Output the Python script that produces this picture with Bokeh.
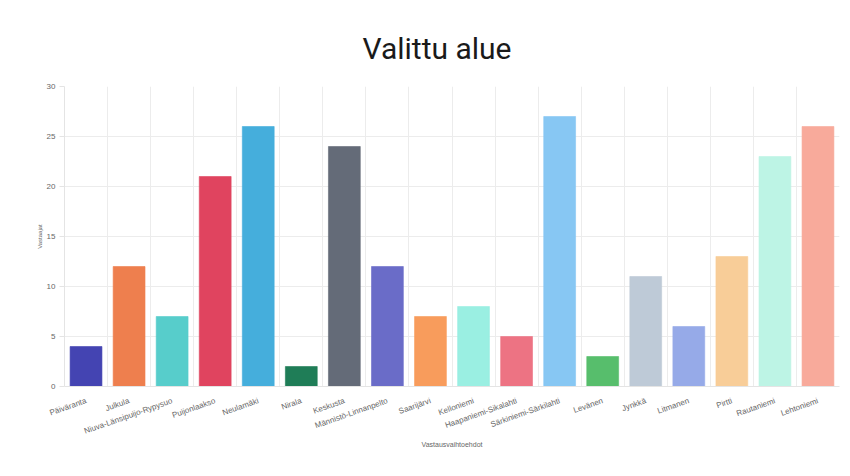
from bokeh.plotting import figure
from bokeh.models import ColumnDataSource, FixedTicker, Range1d
from bokeh.embed import file_html
from bokeh.resources import INLINE

categories = ["Päiväranta", "Julkula", "Niuva-Länsipuijo-Rypysuo", "Puijonlaakso",
              "Neulamäki", "Nirala", "Keskusta", "Männistö-Linnanpelto", "Saarijärvi",
              "Kelloniemi", "Haapaniemi-Sikalahti", "Särkiniemi-Särkilahti", "Levänen",
              "Jynkkä", "Litmanen", "Pirtti", "Rautaniemi", "Lehtoniemi"]
values = [4, 12, 7, 21, 26, 2, 24, 12, 7, 8, 5, 27, 3, 11, 6, 13, 23, 26]
colors = ["#4444B2", "#EE7F4E", "#57CDCB", "#E0445F", "#45AEDC", "#1F7D57",
          "#646B78", "#6A6CC8", "#F89C5C", "#9AEFE2", "#ED7383", "#87C7F3",
          "#57BE6C", "#BECAD7", "#96AAE8", "#F8CD98", "#BDF4E5", "#F8AA9B"]
y_ticks = [0, 5, 10, 15, 20, 25, 30]

n = len(categories)
centers = [i + 0.5 for i in range(n)]
src = ColumnDataSource(dict(x=centers, top=values, color=colors, name=categories))

p = figure(width=850, height=476, output_backend="svg", toolbar_location=None,
           x_range=Range1d(0, n), y_range=Range1d(0, 30),
           min_border_left=64, min_border_right=11, min_border_top=86, min_border_bottom=90,
           title="Valittu alue")

p.vbar(x="x", top="top", width=0.74, fill_color="color", line_color="color",
       line_alpha=0.6, source=src)

p.title.align = "left"
p.title.offset = 298
p.title.text_font = "Roboto"
p.title.text_font_size = "30px"
p.title.text_font_style = "normal"
p.title.text_color = "#1a1a1a"
p.title.standoff = 41

p.outline_line_color = None
p.background_fill_color = "white"
p.border_fill_color = "white"

xa = p.xaxis[0]
xa.ticker = FixedTicker(ticks=centers)
xa.major_label_overrides = {c: lab for c, lab in zip(centers, categories)}
xa.major_label_orientation = 0.34
xa.major_label_standoff = 8
xa.major_label_text_font = "Liberation Sans"
xa.major_label_text_font_size = "8px"
xa.major_label_text_color = "#666666"
xa.major_tick_line_color = None
xa.minor_tick_line_color = None
xa.axis_line_color = "#e4e4e4"
xa.axis_label = "Vastausvaihtoehdot"
xa.axis_label_text_font = "Liberation Sans"
xa.axis_label_text_font_size = "7px"
xa.axis_label_text_font_style = "normal"
xa.axis_label_text_color = "#666666"
xa.axis_label_standoff = -2

ya = p.yaxis[0]
ya.ticker = FixedTicker(ticks=y_ticks)
ya.major_label_text_font = "Liberation Sans"
ya.major_label_text_font_size = "8px"
ya.major_label_text_color = "#666666"
ya.major_label_standoff = 4
ya.major_tick_line_color = "#e4e4e4"
ya.major_tick_out = 5
ya.major_tick_in = 0
ya.minor_tick_line_color = None
ya.axis_line_color = "#e4e4e4"
ya.axis_label = "Vastaajat"
ya.axis_label_text_font = "Liberation Sans"
ya.axis_label_text_font_size = "6px"
ya.axis_label_text_font_style = "normal"
ya.axis_label_text_color = "#666666"
ya.axis_label_standoff = 1

p.xgrid.ticker = FixedTicker(ticks=list(range(n + 1)))
p.xgrid.grid_line_color = "#ececec"
p.ygrid.ticker = FixedTicker(ticks=y_ticks)
p.ygrid.grid_line_color = "#ececec"

open("out.html", "w").write(file_html(p, INLINE))
